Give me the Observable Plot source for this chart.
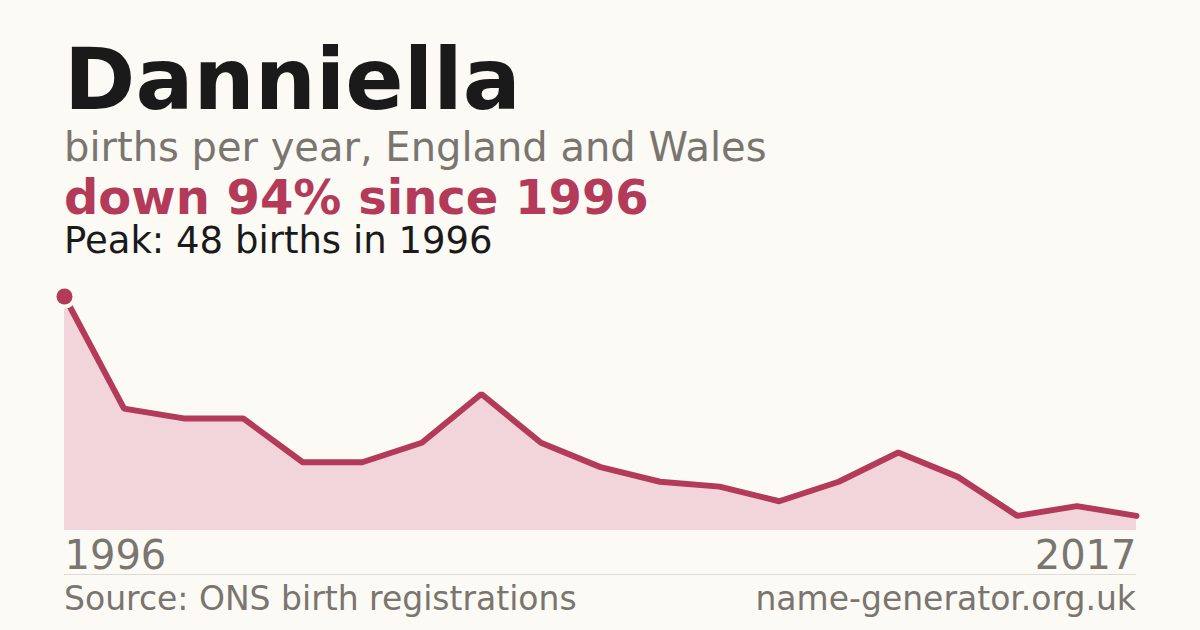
<!DOCTYPE html>
<html>
<head>
<meta charset="utf-8">
<script src="https://cdn.jsdelivr.net/npm/d3@7"></script>
<script src="https://cdn.jsdelivr.net/npm/@observablehq/plot@0.6"></script>
<style>
  html, body { margin: 0; padding: 0; }
  body { width: 1200px; height: 630px; background: #fbfaf5; font-family: "DejaVu Sans", sans-serif; overflow: hidden; }
  #wrap { position: relative; width: 1200px; height: 630px; }
  .t { position: absolute; left: 64px; white-space: nowrap; line-height: 0.9; }
  #title { top: 41px; font-size: 86px; font-weight: bold; color: #1a1a1a; }
  #sub { top: 129px; font-size: 40px; color: #7a756e; }
  #change { top: 176px; font-size: 48px; font-weight: bold; color: #b33a59; }
  #peak { top: 224px; font-size: 37px; color: #1a1a1a; }
  #rule { position: absolute; left: 64px; width: 1072px; top: 574px; height: 1px; background: #dedbd4; }
  .foot { position: absolute; top: 584px; font-size: 33px; color: #7a756e; white-space: nowrap; line-height: 0.9; }
  #src { left: 64px; }
  #site { right: 64px; }
  #chart { position: absolute; left: 0; top: 280px; }
</style>
</head>
<body>
<div id="wrap">
  <div class="t" id="title">Danniella</div>
  <div class="t" id="sub">births per year, England and Wales</div>
  <div class="t" id="change">down 94% since 1996</div>
  <div class="t" id="peak">Peak: 48 births in 1996</div>
  <div id="chart"></div>
  <div id="rule"></div>
  <div class="foot" id="src">Source: ONS birth registrations</div>
  <div class="foot" id="site">name-generator.org.uk</div>
</div>
<script>
const years = [1996,1997,1998,1999,2000,2001,2002,2003,2004,2005,2006,2007,2008,2009,2010,2011,2013,2015,2017];
const births = [48,25,23,23,14,14,18,28,18,13,10,9,6,10,16,11,3,5,3];
const tickLabels = ["1996", "2017"];

const data = years.map((y, i) => ({i, year: y, births: births[i]}));
const first = data[0], last = data[data.length - 1];
const red = "#b33a59";
const bg = "#fbfaf5";

const chart = Plot.plot({
  width: 1200,
  height: 300,
  marginLeft: 64,
  marginRight: 64,
  marginTop: 16,
  marginBottom: 50,
  style: {background: "transparent", fontFamily: "DejaVu Sans, sans-serif", overflow: "visible"},
  x: {type: "linear", domain: [0, years.length - 1], axis: null},
  y: {domain: [0, 48], axis: null},
  marks: [
    Plot.areaY(data, {x: "i", y: "births", fill: "#f2d5da"}),
    Plot.lineY(data, {x: "i", y: "births", stroke: red, strokeWidth: 6, strokeLinejoin: "miter"}),
    Plot.dot([first], {x: "i", y: "births", r: 12, fill: bg, stroke: "none"}),
    Plot.dot([first], {x: "i", y: "births", r: 8, fill: red, stroke: "none"}),
    Plot.text([{i: first.i, label: tickLabels[0]}], {x: "i", text: "label", frameAnchor: "bottom", textAnchor: "start", lineAnchor: "middle", dy: 26, fontSize: 40, fill: "#7a756e"}),
    Plot.text([{i: last.i, label: tickLabels[1]}], {x: "i", text: "label", frameAnchor: "bottom", textAnchor: "end", lineAnchor: "middle", dy: 26, fontSize: 40, fill: "#7a756e"})
  ]
});
document.getElementById("chart").appendChild(chart);
</script>
</body>
</html>
